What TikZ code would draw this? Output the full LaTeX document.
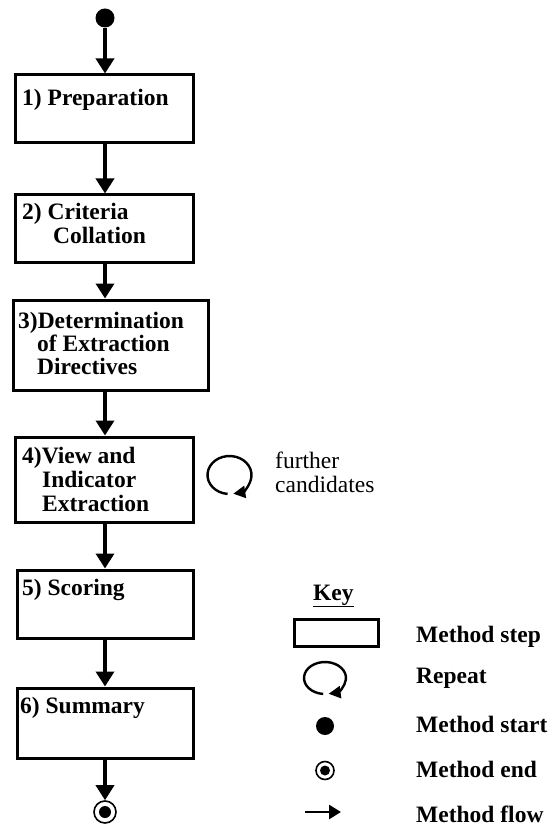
\documentclass[tikz,border=0pt]{standalone}
\usepackage{fontspec}
\setmainfont{Liberation Serif}
\usetikzlibrary{arrows.meta}
\begin{document}
\begin{tikzpicture}[x=1pt,y=-1pt,
  stepbox/.style={draw, line width=3pt, inner sep=0pt},
  lbl/.style={anchor=base west, inner sep=0pt, font=\bfseries\fontsize{23.5}{24}\selectfont},
  note/.style={anchor=base west, inner sep=0pt, font=\fontsize{23.5}{24}\selectfont},
  flow/.style={line width=3.5pt, -{Triangle[width=18pt,length=15pt]}},
  keyflow/.style={line width=2.8pt, -{Triangle[width=14pt,length=12pt]}},
  startdot/.style={circle, fill, inner sep=0pt},
  endring/.style={circle, draw, line width=1.6pt, inner sep=0pt},
  loopline/.style={line width=2.4pt, -{Triangle[width=12pt,length=12pt]}},
]
\useasboundingbox (0,0) rectangle (554,826);

% flow chart
\node[startdot, minimum size=19pt] (start) at (105,18) {};
\node[stepbox, minimum width=178pt, minimum height=68pt] (s1) at (104,109) {};
\node[stepbox, minimum width=178pt, minimum height=67pt] (s2) at (104,228.5) {};
\node[stepbox, minimum width=195pt, minimum height=90pt] (s3) at (110.5,345) {};
\node[stepbox, minimum width=178pt, minimum height=85pt] (s4) at (104,479.5) {};
\node[stepbox, minimum width=176pt, minimum height=68pt] (s5) at (105,604) {};
\node[stepbox, minimum width=176pt, minimum height=70pt] (s6) at (105,723) {};
\node[endring, minimum size=22pt] (end) at (105,812) {};
\fill (end.center) circle (6);

\draw[flow] (start) -- (start |- s1.north);
\draw[flow] (start |- s1.south) -- (start |- s2.north);
\draw[flow] (start |- s2.south) -- (start |- s3.north);
\draw[flow] (start |- s3.south) -- (start |- s4.north);
\draw[flow] (start |- s4.south) -- (start |- s5.north);
\draw[flow] (start |- s5.south) -- (start |- s6.north);
\draw[flow] (start |- s6.south) -- (end);

% step texts
\node[lbl] (t1) at (22,106) {1) Preparation};
\node[lbl] (t2a) at (22,219) {2) Criteria};
\node[lbl] (t2b) at (53,243) {Collation};
\node[lbl] (t3a) at (18,328) {3)Determination};
\node[lbl] (t3b) at (37,351) {of Extraction};
\node[lbl] (t3c) at (37,374) {Directives};
\node[lbl] (t4a) at (22,463) {4)View and};
\node[lbl] (t4b) at (42,487) {Indicator};
\node[lbl] (t4c) at (42,511) {Extraction};
\node[lbl] (t5) at (22,595) {5) Scoring};
\node[lbl] (t6) at (20,713) {6) Summary};

% repeat loop
\coordinate (loop) at (229.5,475);
\begin{scope}[shift={(loop)}, yscale=-1]
  \draw[loopline] (265:22 and 19) arc[start angle=265, end angle=-80, x radius=22, y radius=19];
\end{scope}
\node[note] (fa) at (275,468) {further};
\node[note] (fb) at (275,492) {candidates};

% key
\node[lbl] (key) at (313,600) {\underline{Key}};
\node[stepbox, minimum width=84pt, minimum height=27pt] (kstep) at (336,632.5) {};
\node[lbl] (kl1) at (416,642) {Method step};
\coordinate (kloop) at (325,678);
\begin{scope}[shift={(kloop)}, yscale=-1]
  \draw[loopline] (265:21 and 16) arc[start angle=265, end angle=-80, x radius=21, y radius=16];
\end{scope}
\node[lbl] (kl2) at (416,683) {Repeat};
\node[startdot, minimum size=18pt] (kstart) at (325,726) {};
\node[lbl] (kl3) at (416,732) {Method start};
\node[endring, minimum size=18pt] (kend) at (325,770.5) {};
\fill (kend.center) circle (5);
\node[lbl] (kl4) at (416,777) {Method end};
\coordinate (kf1) at (305,812);
\coordinate (kf2) at (341,812);
\draw[keyflow] (kf1) -- (kf2);
\node[lbl] (kl5) at (416,822) {Method flow};
\end{tikzpicture}
\end{document}
